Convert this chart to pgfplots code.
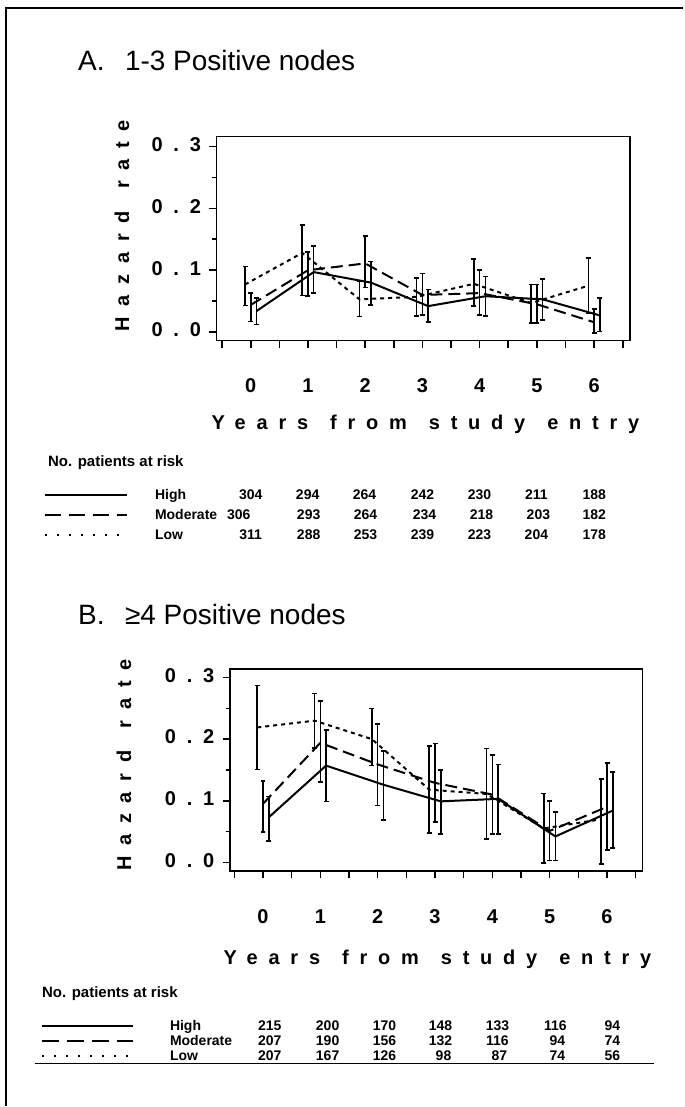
\documentclass[border=0pt]{standalone}
\usepackage{fontspec}
\setmainfont{Liberation Sans}
\newfontfamily\axfont[LetterSpace=54]{Liberation Sans}
\usepackage{pgfplots}
\usepackage{pgfplotstable}
\pgfplotsset{compat=1.18}

% hazard rate, lower and upper confidence limit; x carries the small offset of each group
\pgfplotstableread{
x    y     lo     hi
0.1  0.034 0.012  0.055
1.1  0.097 0.063  0.139
2.1  0.080 0.044  0.114
3.1  0.042 0.016  0.069
4.1  0.058 0.026  0.090
5.1  0.053 0.020  0.086
6.1  0.027 0.001  0.055
}\aHigh
\pgfplotstableread{
x    y     lo     hi
0    0.044 0.017  0.063
1    0.100 0.058  0.129
2    0.111 0.072  0.155
3    0.060 0.028  0.095
4    0.063 0.028  0.100
5    0.045 0.015  0.077
6    0.016 -0.001 0.037
}\aMod
\pgfplotstableread{
x    y     lo     hi
-0.1 0.077 0.043  0.106
0.9  0.128 0.059  0.173
1.9  0.053 0.025  0.082
2.9  0.057 0.026  0.087
3.9  0.078 0.042  0.118
4.9  0.047 0.015  0.077
5.9  0.075 0.030  0.120
}\aLow
\pgfplotstableread{
x    y     lo     hi
0.1  0.073 0.035  0.107
1.1  0.157 0.099  0.215
2.1  0.126 0.069  0.181
3.1  0.099 0.046  0.150
4.1  0.103 0.046  0.159
5.1  0.042 0.003  0.082
6.1  0.084 0.023  0.147
}\bHigh
\pgfplotstableread{
x    y     lo     hi
0    0.095 0.049  0.132
1    0.194 0.130  0.262
2    0.159 0.092  0.225
3    0.129 0.065  0.193
4    0.110 0.046  0.174
5    0.051 0.003  0.100
6    0.090 0.020  0.161
}\bMod
\pgfplotstableread{
x    y     lo     hi
-0.1 0.219 0.151  0.287
0.9  0.230 0.186  0.274
1.9  0.200 0.157  0.250
2.9  0.118 0.048  0.189
3.9  0.111 0.038  0.185
4.9  0.055 -0.001 0.112
5.9  0.070 -0.003 0.135
}\bLow

\newcommand\axlab{\axfont\bfseries\fontsize{20bp}{24bp}\selectfont}
\newcommand\tabfont{\bfseries\fontsize{14bp}{16bp}\selectfont}
\newcommand\headfont{\bfseries\fontsize{15bp}{17bp}\selectfont}
\newcommand\ttl{\fontsize{28bp}{32bp}\selectfont}
\newcommand\wsp{\hspace{22bp}}

\pgfplotsset{
  hz/.style={
    scale only axis, no marks, clip=false,
    axis line style={line width=1.7bp},
    tick align=outside, xtick pos=bottom, ytick pos=left,
    xtick={-0.5,0,...,6.5},
    xticklabels={,0,,1,,2,,3,,4,,5,,6,},
    ytick={0,0.1,0.2,0.3},
    yticklabels={0.0,0.1,0.2,0.3},
    minor ytick={0.05,0.15,0.25},
    major tick length=7bp, minor tick length=4bp,
    every tick/.style={black, line width=1.6bp},
    ticklabel style={font=\axlab},
    typeset ticklabels with strut,
    xticklabel style={yshift=-25bp},
    yticklabel style={xshift=-5bp},
  },
  ci/.style={
    black, line width=2bp,
    error bars/y dir=both, error bars/y explicit,
    error bars/error bar style={solid, line width=1.6bp},
    error bars/error mark options={rotate=90, mark size=2.5bp, line width=1.6bp, solid},
  },
  hi/.style={ci, solid},
  mo/.style={ci, dash pattern=on 12bp off 6bp},
  lo/.style={ci, dash pattern=on 4bp off 4bp},
}
\newcommand\ciplot[2]{\addplot[#1] table[x=x, y=y,
  y error plus expr=\thisrow{hi}-\thisrow{y},
  y error minus expr=\thisrow{y}-\thisrow{lo}] {#2};}

\begin{document}
\begin{tikzpicture}
\path (0,0) rectangle (684bp,1107bp);
\draw[line width=2.5bp] (6bp,0) -- (6bp,1099bp) -- (684bp,1099bp);

% panel A
\node[anchor=base west, inner sep=0, font=\ttl] at (78bp,1036bp) {A.};
\node[anchor=base west, inner sep=0, font=\ttl] at (125bp,1036bp) {1-3 Positive nodes};
\begin{axis}[hz, at={(216.7bp,766bp)}, anchor=south west,
  width=414bp, height=204.3bp,
  xmin=-0.599, xmax=6.627, ymin=-0.0137, ymax=0.316]
\ciplot{hi}{\aHigh}
\ciplot{mo}{\aMod}
\ciplot{lo}{\aLow}
\end{axis}
\node[rotate=90, inner sep=0, font=\axlab] at (122bp,881bp) {Hazard\wsp rate};
\node[anchor=base, inner sep=0, font=\axlab] at (426bp,677bp) {Years\wsp from\wsp study\wsp entry};

\node[anchor=base west, inner sep=0, font=\headfont] at (48bp,640bp) {No. patients at risk};
\draw[line width=2bp] (45bp,611bp) -- (127bp,611bp);
\draw[line width=2bp, dash pattern=on 16bp off 8bp] (45bp,591bp) -- (127bp,591bp);
\draw[line width=2bp, dash pattern=on 2bp off 10bp] (45bp,571bp) -- (127bp,571bp);
\node[anchor=base west, inner sep=0, font=\tabfont] at (155bp,607bp) {High};
\node[anchor=base west, inner sep=0, font=\tabfont] at (155bp,587bp) {Moderate};
\node[anchor=base west, inner sep=0, font=\tabfont] at (155bp,567bp) {Low};
\foreach \x/\n in {251/304,308/294,365/264,423/242,480/230,537/211,595/188}
  \node[anchor=base, inner sep=0, font=\tabfont] at (\x bp,607bp) {\n};
\foreach \x/\n in {239/306,309/293,366/264,425/234,482/218,539/203,595/182}
  \node[anchor=base, inner sep=0, font=\tabfont] at (\x bp,587bp) {\n};
\foreach \x/\n in {251/311,309/288,366/253,423/239,480/223,537/204,595/178}
  \node[anchor=base, inner sep=0, font=\tabfont] at (\x bp,567bp) {\n};

% panel B
\node[anchor=base west, inner sep=0, font=\ttl] at (78bp,482bp) {B.};
\node[anchor=base west, inner sep=0, font=\ttl] at (125bp,482bp) {≥4 Positive nodes};
\begin{axis}[hz, at={(230bp,234.7bp)}, anchor=south west,
  width=413.3bp, height=202.3bp,
  xmin=-0.58, xmax=6.62, ymin=-0.0146, ymax=0.3135]
\ciplot{hi}{\bHigh}
\ciplot{mo}{\bMod}
\ciplot{lo}{\bLow}
\end{axis}
\node[rotate=90, inner sep=0, font=\axlab] at (124bp,341bp) {Hazard\wsp rate};
\node[anchor=base, inner sep=0, font=\axlab] at (438bp,141bp) {Years\wsp from\wsp study\wsp entry};

\node[anchor=base west, inner sep=0, font=\headfont] at (42bp,108bp) {No. patients at risk};
\draw[line width=2bp] (42bp,80bp) -- (133bp,80bp);
\draw[line width=2bp, dash pattern=on 17bp off 8bp] (42bp,65bp) -- (133bp,65bp);
\draw[line width=2bp, dash pattern=on 2bp off 10bp] (42bp,50bp) -- (133bp,50bp);
\node[anchor=base west, inner sep=0, font=\tabfont] at (170bp,75bp) {High};
\node[anchor=base west, inner sep=0, font=\tabfont] at (170bp,60bp) {Moderate};
\node[anchor=base west, inner sep=0, font=\tabfont] at (170bp,45bp) {Low};
\foreach \x/\n in {270/215,328/200,385/170,441/148,498/133,556/116,613/94}
  \node[anchor=base, inner sep=0, font=\tabfont] at (\x bp,75bp) {\n};
\foreach \x/\n in {270/207,328/190,385/156,441/132,498/116,558/94,613/74}
  \node[anchor=base, inner sep=0, font=\tabfont] at (\x bp,60bp) {\n};
\foreach \x/\n in {270/207,328/167,385/126,444/98,500/87,558/74,613/56}
  \node[anchor=base, inner sep=0, font=\tabfont] at (\x bp,45bp) {\n};
\draw[line width=1.2bp] (35bp,42bp) -- (655bp,42bp);
\end{tikzpicture}
\end{document}
